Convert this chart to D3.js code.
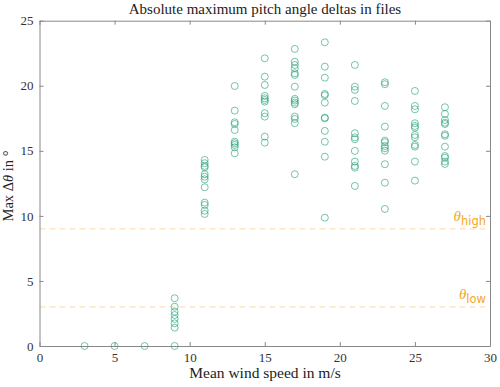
<!DOCTYPE html>
<html><head><meta charset="utf-8">
<script src="https://cdn.jsdelivr.net/npm/d3@7"></script>
<style>body{margin:0;background:#fff}svg{display:block}</style>
</head><body>
<svg id="c" width="500" height="387"></svg>
<script>
const windSpeeds = [3, 5, 7, 9, 11, 13, 15, 17, 19, 21, 23, 25, 27];
const deltas = [
  [0],
  [0],
  [0],
  [3.67, 3.02, 2.64, 2.38, 2.08, 1.74, 1.41, 0],
  [14.30, 14.05, 13.84, 13.73, 13.20, 13.01, 12.81, 12.20, 11.02, 10.84, 10.40, 10.15],
  [19.98, 18.09, 17.19, 17.06, 16.60, 15.70, 15.58, 15.45, 15.27, 14.81],
  [22.11, 20.70, 20.06, 19.22, 19.04, 18.91, 18.78, 17.89, 17.63, 16.09, 15.63],
  [22.83, 21.85, 21.60, 21.34, 20.96, 20.83, 19.93, 18.99, 18.86, 18.70, 18.58, 17.63, 17.45, 17.12, 13.20],
  [23.34, 21.47, 20.62, 19.37, 19.27, 18.70, 17.55, 17.50, 16.53, 15.70, 14.55, 9.86],
  [21.60, 19.93, 19.68, 18.83, 16.35, 16.04, 15.89, 14.99, 14.17, 13.84, 13.71, 12.30],
  [20.27, 20.12, 18.45, 16.86, 15.78, 15.66, 15.37, 15.20, 15.01, 13.97, 12.55, 10.53],
  [19.60, 18.45, 18.19, 17.12, 16.91, 16.78, 16.22, 16.04, 15.45, 15.32, 14.17, 12.71],
  [18.35, 17.83, 17.37, 17.16, 17.06, 16.27, 16.16, 15.32, 14.60, 14.47, 14.17, 13.99]
];
const thresholds = [9, 3];
const thresholdNames = ["high", "low"];
const xTicks = [0, 5, 10, 15, 20, 25, 30];
const yTicks = [0, 5, 10, 15, 20, 25];
const title = "Absolute maximum pitch angle deltas in files";
const xLabel = "Mean wind speed in m/s";

const points = [];
windSpeeds.forEach((w, i) => deltas[i].forEach(v => points.push({x: w, y: v})));

const svg = d3.select("#c");
const m = {l: 39.5, r: 490, t: 20.7, b: 346};
const x = d3.scaleLinear().domain([0, 30]).range([m.l, m.r]);
const y = d3.scaleLinear().domain([0, 25]).range([m.b, m.t]);
const serif = "'Liberation Serif', 'DejaVu Serif', serif";
const axisCol = "#888";

// threshold lines
const thrCol = "#f5a623";
svg.append("g").selectAll("line").data(thresholds).join("line")
  .attr("x1", m.l).attr("x2", m.r)
  .attr("y1", d => y(d)).attr("y2", d => y(d))
  .attr("stroke", "#fcd9a4").attr("stroke-width", 1).attr("stroke-dasharray", "6,4");

// axes
const ax = svg.append("g").attr("transform", `translate(0,${m.b})`)
  .call(d3.axisBottom(x).tickValues(xTicks).tickSizeInner(-4).tickSizeOuter(0).tickPadding(7));
const axT = svg.append("g").attr("transform", `translate(0,${m.t})`)
  .call(d3.axisTop(x).tickValues(xTicks).tickSizeInner(-4).tickSizeOuter(0).tickFormat(""));
const ay = svg.append("g").attr("transform", `translate(${m.l},0)`)
  .call(d3.axisLeft(y).tickValues(yTicks).tickSizeInner(-4).tickSizeOuter(0).tickPadding(6));
const ayR = svg.append("g").attr("transform", `translate(${m.r},0)`)
  .call(d3.axisRight(y).tickValues(yTicks).tickSizeInner(-4).tickSizeOuter(0).tickFormat(""));
[ax, axT, ay, ayR].forEach(g => {
  g.select(".domain").attr("stroke", axisCol);
  g.selectAll(".tick line").attr("stroke", axisCol);
  g.selectAll(".tick text").attr("fill", "#333").style("font-family", serif).style("font-size", "13px");
});

// points
svg.append("g").selectAll("circle").data(points).join("circle")
  .attr("cx", d => x(d.x)).attr("cy", d => y(d.y)).attr("r", 3.5)
  .attr("fill", "none").attr("stroke", "#1b9e77").attr("stroke-opacity", 0.6).attr("stroke-width", 1);

// threshold labels
const lab = svg.append("g").selectAll("text").data(thresholds).join("text")
  .attr("x", 486).attr("y", d => y(d) - 8).attr("text-anchor", "end")
  .attr("fill", thrCol).style("font-family", "'DejaVu Sans', sans-serif");
lab.append("tspan").text("θ").style("font-style", "italic").style("font-size", "15px")
  .style("font-family", serif);
lab.append("tspan").text((d, i) => thresholdNames[i]).attr("dy", 4).style("font-size", "11.5px");

// title & labels
svg.append("text").attr("x", 265).attr("y", 14).attr("text-anchor", "middle")
  .style("font-family", serif).style("font-size", "15px").attr("fill", "#222").text(title);
svg.append("text").attr("x", 265).attr("y", 378).attr("text-anchor", "middle")
  .style("font-family", serif).style("font-size", "15.5px").attr("fill", "#222").text(xLabel);
const yl = svg.append("text").attr("transform", "translate(13,186) rotate(-90)").attr("text-anchor", "middle")
  .style("font-family", serif).style("font-size", "14.5px").attr("fill", "#222");
yl.append("tspan").text("Max Δ");
yl.append("tspan").text("θ").style("font-style", "italic");
yl.append("tspan").text(" in °");
</script>
</body></html>
